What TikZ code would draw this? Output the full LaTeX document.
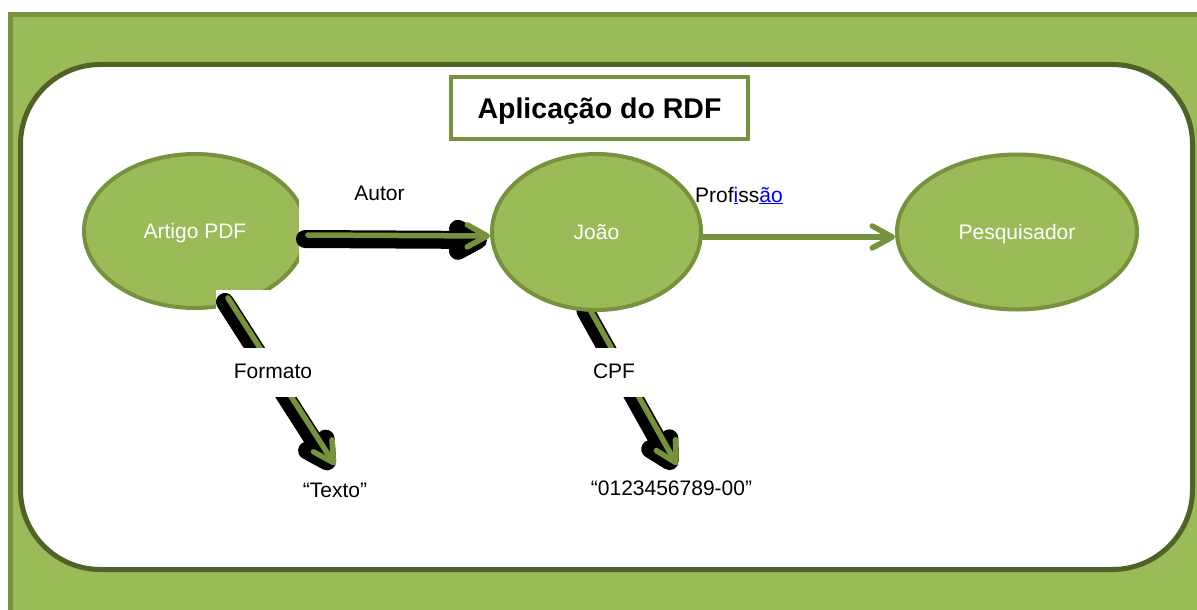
\documentclass[tikz,border=0pt]{standalone}
\usepackage{fontspec}
\setmainfont{Liberation Sans}
\usetikzlibrary{shapes.geometric,arrows.meta}
\definecolor{leaf}{HTML}{9BBB59}
\definecolor{leafline}{HTML}{76923C}
\definecolor{leafdark}{HTML}{4F6228}
\definecolor{linkblue}{HTML}{0000FF}
\pgfdeclarelayer{back}
\pgfsetlayers{back,main}
\tikzset{
  txt/.style={font=\fontsize{21}{25}\selectfont},
  bubble/.style={ellipse, draw=leafline, line width=4pt, fill=leaf, text=white,
    inner sep=0pt, txt, text height=15pt, text depth=0pt},
  lbl/.style={txt, inner sep=0pt, anchor=base},
  lblbox/.style={lbl, fill=white, text height=15pt, text depth=4pt,
    inner ysep=15pt, inner xsep=16pt},
  barb/.style={-{Straight Barb[length=20pt,width=22pt,round]}},
  link/.style={draw=leafline, line width=5.5pt, line cap=round, barb},
  shade/.style={draw=black, line width=18pt, line cap=round, barb,
    transform canvas={xshift=-3pt,yshift=-4pt}},
}
\begin{document}
\begin{tikzpicture}[x=1pt,y=-1pt]
  \useasboundingbox (0,0) rectangle (1197,610);
  \clip (0,0) rectangle (1197,610);

  % frame: green panel with the white rounded card inside
  \begin{pgfonlayer}{back}
    \draw[fill=leaf, draw=leafline, line width=5pt] (10.5,14.5) rectangle (1240,650);
    \draw[fill=white, draw=leafdark, line width=5pt, rounded corners=80pt]
      (20.5,64.5) rectangle (1192.5,569.5);
  \end{pgfonlayer}

  % title
  \node[draw=leafline, line width=4pt, fill=white, minimum width=297pt,
        minimum height=62pt, inner sep=0pt,
        font=\fontsize{28.5}{33}\selectfont\bfseries,
        text height=20.4pt, text depth=0pt] (title) at (599.5,108) {Aplicação do RDF};

  % resources
  \node[bubble, minimum width=222pt, minimum height=154pt] (artigo) at (195,231) {Artigo PDF};
  \node[bubble, minimum width=209pt, minimum height=156pt] (joao) at (596.5,232) {João};
  \node[bubble, minimum width=240pt, minimum height=155pt] (pesq) at (1017,232) {Pesquisador};

  % white patches lying over the first ellipse
  \fill[white] (299,185) rectangle (470,282);
  \fill[white] (216,290) rectangle (300,330);

  % literal values
  \node[lbl] (texto) at (335,497) {“Texto”};
  \node[lbl] (num) at (671.5,495) {“0123456789-00”};

  % Autor
  \draw[shade] ([yshift=-4pt]artigo.east) -- ([yshift=-4pt]joao.west);
  \draw[link]  ([yshift=-4pt]artigo.east) -- ([yshift=-4pt]joao.west);

  % Formato
  \draw[shade] ([xshift=33pt,yshift=-67pt]artigo.center) -- ([yshift=32pt]texto.base);
  \draw[link]  ([xshift=33pt,yshift=-67pt]artigo.center) -- ([yshift=32pt]texto.base);

  % CPF (starts underneath the ellipse)
  \begin{pgfonlayer}{back}
    \draw[shade] ([xshift=-8pt,yshift=5pt]joao.south) -- ([xshift=5.5pt,yshift=30pt]num.base);
    \draw[link]  ([xshift=-8pt,yshift=5pt]joao.south) -- ([xshift=5.5pt,yshift=30pt]num.base);
  \end{pgfonlayer}

  % Profissão
  \draw[link] ([yshift=-5pt]joao.east) -- ([yshift=-5pt]pesq.west);

  % predicate labels
  \node[lbl] (autor) at (379.5,200) {Autor};
  \node[lblbox] (formato) at (273,378) {Formato};
  \node[lblbox] (cpf) at (614,378) {CPF};
  \node[lbl, anchor=base west] (prof) at (695,202)
    {Prof\textcolor{linkblue}{\underline{i}}ss\textcolor{linkblue}{\underline{ão}}};
\end{tikzpicture}
\end{document}
